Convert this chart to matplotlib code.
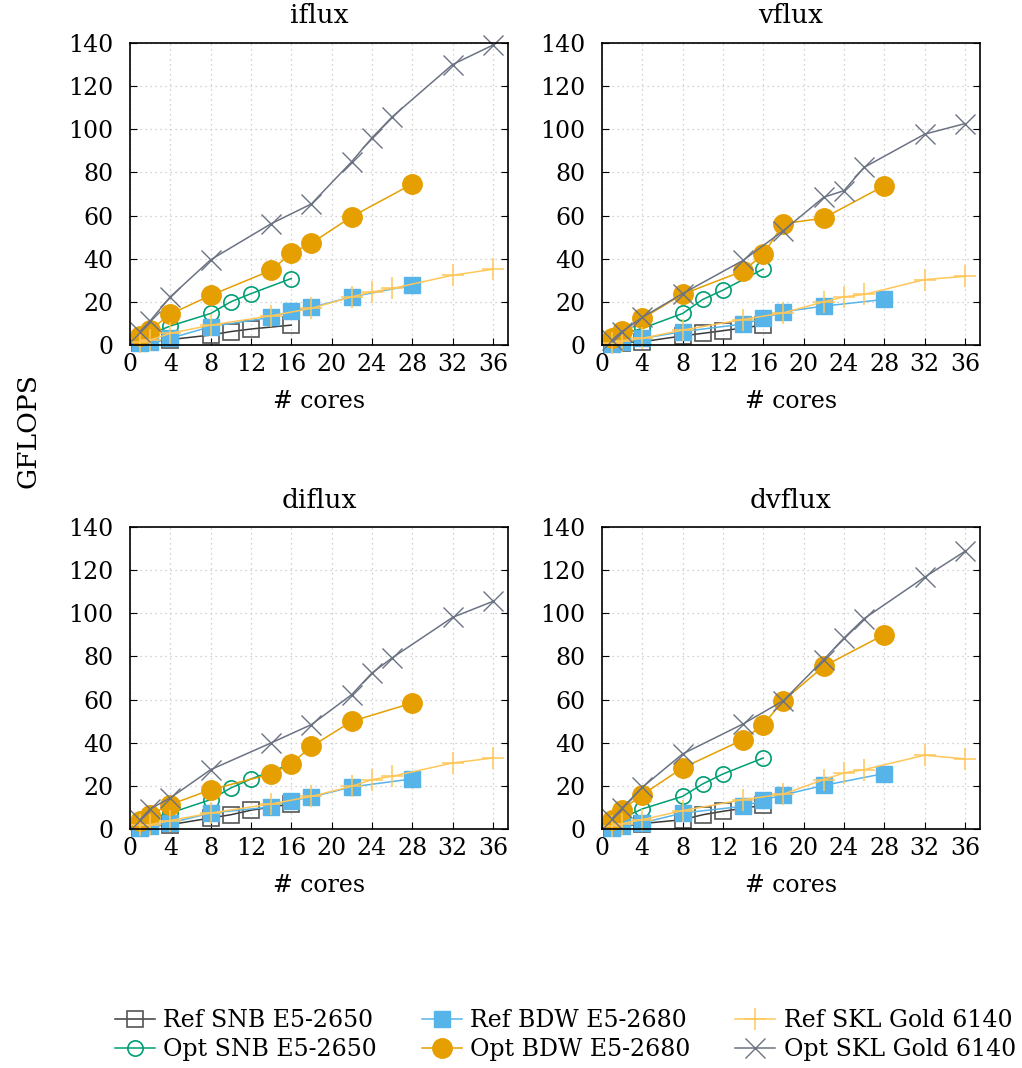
import matplotlib
matplotlib.use('Agg')
import matplotlib.pyplot as plt

plt.rcParams['font.family'] = 'DejaVu Serif'

# core counts per machine
cores_snb = [1, 2, 4, 8, 10, 12, 16]
cores_bdw = [1, 2, 4, 8, 14, 16, 18, 22, 28]
cores_skl = [1, 2, 4, 8, 14, 18, 22, 24, 26, 32, 36]

# iflux
iflux_ref_snb = [0.8, 1.5, 2.5, 4.6, 6.2, 7.4, 9.2]
iflux_opt_snb = [2.5, 5.0, 8.8, 14.6, 20.0, 23.8, 30.8]
iflux_ref_bdw = [0.8, 1.5, 3.1, 8.5, 12.8, 15.7, 17.4, 22.3, 27.7]
iflux_opt_bdw = [4.2, 6.9, 14.3, 23.0, 34.6, 42.6, 47.2, 59.5, 74.6]
iflux_ref_skl = [1.5, 2.3, 5.4, 9.2, 13.5, 17.0, 22.3, 24.6, 26.2, 32.3, 35.1]
iflux_opt_skl = [6.2, 11.2, 22.3, 39.5, 56.2, 65.4, 85.0, 96.0, 105.7, 130.0, 139.0]

# vflux
vflux_ref_snb = [0.5, 1.0, 1.5, 4.2, 5.4, 6.6, 9.2]
vflux_opt_snb = [2.5, 5.0, 7.7, 14.6, 21.1, 25.4, 35.2]
vflux_ref_bdw = [0.5, 1.5, 3.0, 6.2, 9.7, 12.3, 15.4, 18.0, 21.1]
vflux_opt_bdw = [3.1, 6.6, 12.3, 23.5, 34.3, 42.0, 56.2, 58.8, 73.8]
vflux_ref_skl = [1.0, 2.0, 3.1, 6.9, 11.8, 14.9, 20.0, 22.3, 23.4, 30.3, 31.8]
vflux_opt_skl = [2.3, 6.2, 12.8, 23.8, 39.2, 53.0, 68.5, 71.5, 82.3, 97.7, 102.6]

# diflux
diflux_ref_snb = [0.5, 1.2, 2.0, 5.1, 6.6, 8.7, 11.6]
diflux_opt_snb = [2.5, 5.0, 7.4, 13.6, 19.0, 23.2, 30.1]
diflux_ref_bdw = [0.5, 1.5, 2.8, 7.4, 10.2, 13.1, 14.8, 19.5, 23.2]
diflux_opt_bdw = [3.9, 6.6, 11.3, 18.2, 25.5, 30.3, 38.3, 49.9, 58.4]
diflux_ref_skl = [2.0, 2.0, 3.9, 7.4, 11.6, 15.1, 19.8, 22.9, 24.4, 30.6, 32.9]
diflux_opt_skl = [4.3, 9.3, 14.4, 27.5, 39.9, 48.4, 62.3, 72.3, 79.3, 98.1, 105.5]

# dvflux
dvflux_ref_snb = [0.5, 1.2, 2.5, 4.3, 6.6, 8.2, 11.0]
dvflux_opt_snb = [2.5, 5.0, 9.3, 15.1, 20.9, 25.5, 32.9]
dvflux_ref_bdw = [0.5, 1.5, 2.8, 7.4, 10.5, 13.4, 15.8, 20.2, 25.7]
dvflux_opt_bdw = [4.3, 9.0, 15.9, 28.3, 41.4, 48.4, 59.5, 75.4, 90.1]
dvflux_ref_skl = [1.5, 2.5, 4.3, 8.5, 13.6, 16.2, 22.9, 26.0, 27.5, 34.2, 32.5]
dvflux_opt_skl = [4.8, 9.7, 19.3, 34.8, 48.7, 59.5, 78.5, 88.5, 97.5, 116.7, 128.7]

labels = ['Ref SNB E5-2650', 'Opt SNB E5-2650', 'Ref BDW E5-2680',
          'Opt BDW E5-2680', 'Ref SKL Gold 6140', 'Opt SKL Gold 6140']

panels = [
    ('iflux', [iflux_ref_snb, iflux_opt_snb, iflux_ref_bdw, iflux_opt_bdw, iflux_ref_skl, iflux_opt_skl]),
    ('vflux', [vflux_ref_snb, vflux_opt_snb, vflux_ref_bdw, vflux_opt_bdw, vflux_ref_skl, vflux_opt_skl]),
    ('diflux', [diflux_ref_snb, diflux_opt_snb, diflux_ref_bdw, diflux_opt_bdw, diflux_ref_skl, diflux_opt_skl]),
    ('dvflux', [dvflux_ref_snb, dvflux_opt_snb, dvflux_ref_bdw, dvflux_opt_bdw, dvflux_ref_skl, dvflux_opt_skl]),
]

xs = [cores_snb, cores_snb, cores_bdw, cores_bdw, cores_skl, cores_skl]
styles = [
    dict(color='#3a3a3a', marker='s', ms=12, mfc='none', mec='#555555', mew=1.2),
    dict(color='#009e73', marker='o', ms=11, mfc='none', mew=1.2),
    dict(color='#56b4e9', marker='s', ms=12, mfc='#56b4e9', mec='#56b4e9'),
    dict(color='#e69f00', marker='o', ms=14, mfc='#e69f00', mec='#e69f00'),
    dict(color='#ffc75a', marker='+', ms=16, mew=1.1),
    dict(color='#6b7383', marker='x', ms=14, mew=1.0),
]

fig = plt.figure(figsize=(10.22, 10.68), dpi=100)
positions = [
    [0.1272, 0.677, 0.3699, 0.2828],
    [0.589, 0.677, 0.3699, 0.2828],
    [0.1272, 0.2238, 0.3699, 0.2828],
    [0.589, 0.2238, 0.3699, 0.2828],
]

handles = []
for pos, (name, series) in zip(positions, panels):
    ax = fig.add_axes(pos)
    handles = []
    for x, y, st, lab in zip(xs, series, styles, labels):
        h, = ax.plot(x, y, lw=1.1, clip_on=False, label=lab, **st)
        handles.append(h)
    ax.set_xlim(0, 37.5)
    ax.set_ylim(0, 140)
    ax.set_xticks(range(0, 37, 4))
    ax.set_yticks(range(0, 141, 20))
    ax.grid(True, color='#c4c4c4', linestyle=(0, (1, 3)), lw=0.9)
    ax.tick_params(direction='in', length=5, labelsize=17, right=True, top=False)
    ax.tick_params(axis='x', pad=6)
    ax.tick_params(axis='y', pad=12)
    ax.set_title(name, fontsize=19, pad=14)
    ax.set_xlabel('# cores', fontsize=17, labelpad=10)
    for s in ax.spines.values():
        s.set_linewidth(1.2)

fig.text(0.027, 0.597, 'GFLOPS', rotation=90, fontsize=19, ha='center', va='center')

fig.legend(handles, labels, loc='center', bbox_to_anchor=(0.553, 0.031), ncol=3,
           frameon=False, fontsize=17, handlelength=1.7, columnspacing=1.9,
           handletextpad=0.35, labelspacing=0.25)

fig.savefig('out.png', dpi=100)
